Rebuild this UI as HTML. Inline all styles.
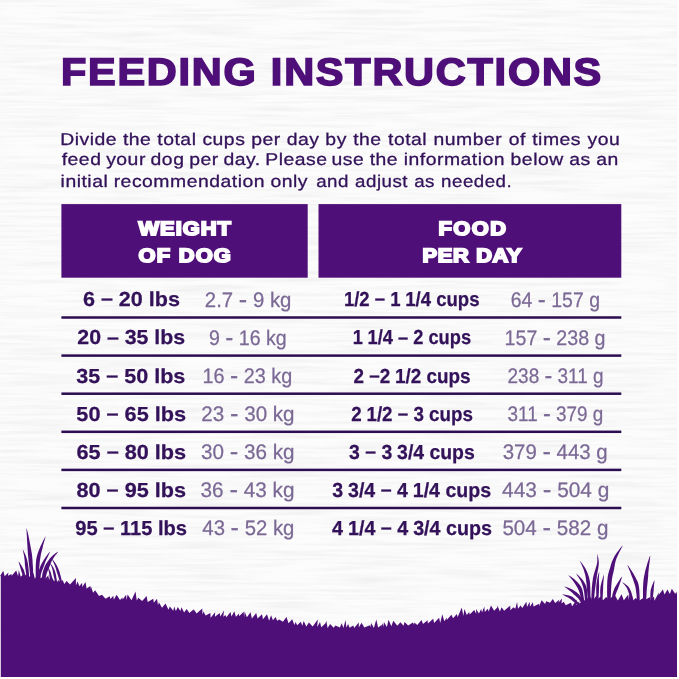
<!DOCTYPE html>
<html><head><meta charset="utf-8"><title>Feeding Instructions</title>
<style>
html,body{margin:0;padding:0;background:#ffffff;}
body{width:679px;height:679px;overflow:hidden;font-family:"Liberation Sans",sans-serif;}
svg{display:block;font-family:"Liberation Sans",sans-serif;}
</style></head><body>
<svg width="679" height="679" viewBox="0 0 679 679">
<defs>
<filter id="wood" x="0" y="0" width="100%" height="100%" color-interpolation-filters="sRGB">
<feTurbulence type="fractalNoise" baseFrequency="0.012 0.28" numOctaves="4" seed="4" result="n"/>
<feColorMatrix in="n" type="matrix" values="0 0 0 0 0.84  0 0 0 0 0.84  0 0 0 0 0.84  0.6 0 0 0 -0.235"/>
</filter>
</defs>
<rect x="0" y="0" width="677" height="677" fill="#fcfcfc"/>
<rect x="0" y="0" width="677" height="677" filter="url(#wood)"/>
<rect x="61.4" y="204.1" width="246.3" height="73.6" fill="#4f0f79"/>
<rect x="318.5" y="204.1" width="302.8" height="73.6" fill="#4f0f79"/>
<rect x="61.4" y="316.25" width="559.9" height="2.5" fill="#2c0d52"/>
<rect x="61.4" y="354.35" width="559.9" height="2.5" fill="#2c0d52"/>
<rect x="61.4" y="392.45" width="559.9" height="2.5" fill="#2c0d52"/>
<rect x="61.4" y="430.55" width="559.9" height="2.5" fill="#2c0d52"/>
<rect x="61.4" y="468.65" width="559.9" height="2.5" fill="#2c0d52"/>
<rect x="61.4" y="506.75" width="559.9" height="2.5" fill="#2c0d52"/>
<path d="M0.8,677 L0.8,576 L0.0,576.2 L3.2,570.8 L4.7,576.3 L8.4,572.5 L8.0,575.8 L11.5,574.1 L11.7,575.7 L16.2,570.6 L18.1,576.3 L18.8,570.0 L20.7,576.7 L24.3,573.6 L23.3,577.4 L26.4,573.9 L28.4,577.8 L33.3,572.7 L34.9,578.7 L38.5,573.2 L38.3,579.3 L43.5,576.5 L44.2,579.7 L48.7,575.1 L47.5,580.6 L48.6,576.7 L50.3,580.7 L51.2,575.8 L54.1,581.5 L54.9,580.0 L57.0,582.2 L58.3,580.0 L61.3,583.0 L62.5,579.7 L64.3,584.0 L66.6,581.1 L70.0,584.5 L75.9,577.9 L75.9,585.6 L77.5,581.4 L79.4,586.2 L82.1,582.8 L82.3,587.0 L85.5,582.0 L86.6,588.4 L90.4,586.1 L89.8,589.4 L90.9,586.2 L93.1,592.7 L95.1,590.3 L99.1,596.0 L102.0,594.8 L105.5,598.8 L109.7,596.3 L110.4,599.0 L113.3,595.7 L113.8,599.7 L116.6,594.7 L120.0,600.1 L122.4,597.6 L122.7,599.6 L126.1,594.7 L126.6,600.1 L127.6,594.5 L131.5,600.3 L135.5,591.5 L136.8,600.4 L138.3,597.7 L142.2,601.0 L146.6,595.9 L147.7,601.9 L153.3,598.8 L153.8,602.8 L157.0,598.8 L158.0,605.2 L158.9,602.3 L162.0,607.8 L165.5,603.5 L168.5,609.7 L169.8,606.5 L173.3,610.7 L174.2,606.5 L175.9,611.0 L177.8,606.9 L180.4,610.9 L181.5,607.3 L184.1,612.5 L186.7,608.9 L189.3,613.0 L193.5,609.5 L192.6,613.5 L193.7,609.2 L196.6,613.5 L202.3,608.6 L202.4,614.4 L203.5,611.6 L205.6,615.6 L210.4,612.9 L210.6,617.8 L215.2,612.2 L214.9,616.7 L219.7,613.1 L220.3,616.6 L224.0,610.5 L223.3,616.8 L225.4,615.1 L226.4,617.2 L230.5,612.0 L231.5,616.5 L234.3,611.2 L235.9,616.7 L239.1,613.6 L239.1,616.3 L243.7,611.7 L244.1,617.3 L244.6,611.6 L246.9,617.2 L250.5,612.2 L251.9,618.4 L256.2,612.9 L257.6,618.5 L262.0,614.2 L263.0,619.3 L267.0,614.3 L269.1,620.7 L271.1,615.2 L272.9,620.3 L275.7,617.1 L277.1,620.8 L279.3,619.6 L282.9,621.8 L286.5,617.1 L288.5,623.3 L292.2,619.2 L294.4,624.9 L295.6,622.0 L297.2,625.3 L300.8,621.7 L302.3,625.7 L303.7,620.9 L306.3,626.6 L308.9,622.5 L312.7,626.6 L317.8,619.5 L317.2,626.9 L320.0,622.0 L321.3,627.3 L325.5,623.3 L324.1,627.7 L326.3,620.8 L327.6,627.9 L330.1,624.0 L333.7,627.8 L335.4,625.4 L339.9,627.4 L341.7,623.2 L343.4,627.9 L345.6,620.1 L346.3,627.5 L348.1,623.9 L349.6,627.7 L353.2,625.4 L354.2,627.9 L358.8,622.6 L358.8,627.5 L361.5,622.8 L364.3,627.6 L369.9,625.2 L370.5,627.3 L371.1,623.0 L373.9,627.9 L376.3,619.5 L378.1,627.5 L382.0,624.7 L380.7,627.7 L382.9,623.3 L383.6,627.2 L383.9,621.9 L386.9,626.9 L388.5,619.7 L391.4,626.2 L393.3,620.7 L397.3,625.7 L400.4,622.3 L403.6,625.7 L404.5,622.0 L408.2,625.6 L412.9,622.6 L414.1,624.8 L414.3,622.4 L417.3,625.1 L421.5,619.9 L423.0,624.1 L427.6,620.2 L427.9,623.5 L433.2,618.8 L434.1,623.1 L439.1,617.7 L440.2,623.0 L442.3,614.3 L444.3,621.2 L446.9,617.6 L446.8,620.1 L451.4,614.8 L453.1,618.2 L456.8,614.0 L457.7,617.0 L461.8,607.6 L463.3,616.0 L464.4,609.1 L466.8,615.0 L469.2,612.1 L469.7,614.6 L474.3,610.0 L476.1,613.8 L476.2,609.1 L478.9,613.4 L481.2,609.1 L482.0,612.5 L484.3,606.6 L484.8,612.0 L487.8,608.8 L488.7,611.4 L491.0,605.5 L494.1,610.8 L498.2,606.5 L497.2,611.4 L497.4,605.4 L499.9,611.5 L501.6,607.2 L504.1,610.8 L510.2,605.7 L510.4,610.2 L513.4,607.2 L515.3,608.7 L517.1,601.9 L518.0,608.7 L520.6,605.4 L522.3,608.1 L526.4,601.8 L527.0,607.0 L529.7,601.8 L529.9,606.7 L532.9,602.2 L533.5,606.6 L539.2,603.7 L539.0,606.3 L541.7,600.2 L545.0,604.1 L546.3,601.2 L550.0,602.7 L552.8,599.1 L555.2,602.9 L559.2,599.7 L558.6,602.5 L562.0,598.4 L561.5,603.5 L563.8,601.7 L565.7,605.2 L570.8,602.7 L572.2,606.2 L576.7,599.5 L576.4,605.3 L579.4,601.1 L579.2,603.8 L583.5,599.9 L584.8,600.6 L586.5,596.2 L588.6,600.3 L589.5,595.8 L592.5,600.5 L597.5,594.6 L597.3,599.8 L600.4,596.6 L603.0,600.2 L606.2,597.1 L609.1,599.8 L612.1,596.7 L613.1,600.4 L614.8,595.0 L617.8,600.4 L621.6,594.2 L623.8,600.2 L628.3,594.5 L628.6,599.7 L629.8,592.3 L633.3,600.5 L635.5,598.1 L639.4,600.5 L643.9,597.5 L644.5,600.3 L650.1,596.9 L650.0,600.4 L654.0,596.4 L654.5,600.7 L658.9,592.3 L658.6,595.1 L662.9,589.4 L664.5,594.6 L667.5,589.6 L669.8,594.0 L671.8,588.7 L675.3,594.0 L676.2,591.4 L677.0,594.0 L677,677 Z" fill="#4f0f79"/>
<path d="M26.5,528.0 L26.5,529.0 L26.5,530.2 L26.6,531.7 L26.7,533.4 L26.8,535.2 L26.9,537.1 L27.0,539.1 L27.1,541.1 L27.2,543.2 L27.4,545.5 L27.5,547.8 L27.7,550.3 L27.8,552.8 L28.0,555.3 L28.3,557.7 L28.5,560.2 L28.8,562.8 L29.1,565.5 L29.4,568.4 L29.7,571.3 L29.9,574.0 L30.2,576.5 L30.4,578.6 L30.5,580.1 L33.5,579.9 L33.4,578.3 L33.3,576.3 L33.2,573.8 L33.1,571.1 L33.0,568.2 L32.8,565.3 L32.6,562.4 L32.5,559.8 L32.2,557.3 L32.0,554.8 L31.6,552.3 L31.2,549.9 L30.7,547.4 L30.3,545.1 L29.9,542.9 L29.5,540.9 L29.1,538.9 L28.7,536.9 L28.3,535.0 L27.9,533.2 L27.5,531.6 L27.1,530.2 L26.8,528.9 L26.5,528.0 Z" fill="#4f0f79"/>
<path d="M45.7,536.2 L45.2,536.9 L44.7,537.9 L44.1,539.0 L43.4,540.3 L42.7,541.7 L42.0,543.2 L41.3,544.7 L40.6,546.1 L40.0,547.6 L39.4,549.0 L38.8,550.5 L38.2,552.1 L37.6,553.7 L37.1,555.5 L36.6,557.4 L36.2,559.5 L36.0,562.0 L35.8,564.7 L35.7,567.7 L35.7,570.7 L35.7,573.6 L35.7,576.2 L35.7,578.3 L35.7,579.9 L38.5,580.1 L38.6,578.4 L38.7,576.2 L38.9,573.6 L39.0,570.8 L39.2,567.8 L39.5,565.0 L39.7,562.3 L40.0,560.1 L40.3,558.1 L40.6,556.3 L40.9,554.6 L41.2,553.0 L41.6,551.4 L42.0,549.9 L42.4,548.4 L42.8,546.9 L43.1,545.3 L43.6,543.8 L44.0,542.2 L44.5,540.7 L44.9,539.3 L45.2,538.1 L45.5,537.0 L45.7,536.2 Z" fill="#4f0f79"/>
<path d="M22.8,549.4 L22.9,550.2 L23.1,551.1 L23.3,552.3 L23.6,553.5 L23.9,554.9 L24.2,556.5 L24.4,558.2 L24.6,560.0 L24.8,562.2 L24.9,564.8 L25.3,567.7 L25.7,570.7 L26.1,573.6 L26.5,576.3 L26.8,578.5 L27.0,580.1 L29.4,579.9 L29.3,578.2 L29.1,576.0 L28.9,573.3 L28.7,570.4 L28.4,567.4 L28.1,564.4 L27.5,561.8 L27.0,559.6 L26.5,557.7 L25.9,556.0 L25.3,554.5 L24.7,553.2 L24.2,552.0 L23.6,550.9 L23.2,550.1 L22.8,549.4 Z" fill="#4f0f79"/>
<path d="M18.6,561.4 L18.7,562.2 L19.0,563.2 L19.3,564.3 L19.7,565.6 L20.1,567.0 L20.5,568.3 L20.9,569.6 L21.2,570.9 L21.6,572.0 L22.0,573.3 L22.4,574.7 L22.8,576.1 L23.2,577.3 L23.5,578.5 L23.8,579.5 L24.0,580.3 L26.0,579.7 L25.9,579.0 L25.7,578.0 L25.5,576.8 L25.2,575.5 L24.9,574.1 L24.6,572.6 L24.2,571.2 L23.8,569.9 L23.2,568.7 L22.5,567.5 L21.8,566.2 L21.1,565.0 L20.4,563.9 L19.7,562.8 L19.1,562.0 L18.6,561.4 Z" fill="#4f0f79"/>
<path d="M50.1,551.4 L49.5,552.1 L48.7,553.1 L47.7,554.3 L46.7,555.7 L45.7,557.1 L44.7,558.6 L43.7,560.0 L42.9,561.4 L42.1,562.8 L41.4,564.2 L40.7,565.6 L40.1,567.0 L39.5,568.5 L39.1,569.9 L38.7,571.3 L38.4,572.7 L38.1,574.0 L38.0,575.4 L37.9,576.8 L37.8,578.1 L37.8,579.3 L37.8,580.4 L37.8,581.3 L37.8,581.9 L40.2,582.1 L40.3,581.4 L40.3,580.5 L40.4,579.4 L40.5,578.3 L40.6,577.0 L40.7,575.8 L40.9,574.5 L41.2,573.3 L41.6,572.1 L42.0,570.9 L42.5,569.5 L43.1,568.2 L43.6,566.8 L44.1,565.4 L44.6,563.9 L45.1,562.6 L45.7,561.1 L46.4,559.6 L47.2,558.0 L47.9,556.4 L48.6,554.9 L49.3,553.5 L49.8,552.3 L50.1,551.4 Z" fill="#4f0f79"/>
<path d="M58.3,551.4 L57.5,551.9 L56.6,552.5 L55.5,553.3 L54.3,554.2 L53.0,555.3 L51.8,556.4 L50.5,557.7 L49.4,559.0 L48.4,560.4 L47.3,561.9 L46.3,563.6 L45.3,565.3 L44.5,567.1 L43.8,569.0 L43.2,570.7 L42.7,572.4 L42.4,574.1 L42.1,575.9 L42.0,577.6 L41.9,579.2 L41.9,580.7 L41.9,582.0 L41.9,583.1 L41.9,583.9 L45.1,584.1 L45.2,583.3 L45.3,582.1 L45.4,580.9 L45.5,579.4 L45.7,578.0 L46.0,576.4 L46.3,575.0 L46.7,573.6 L47.2,572.1 L47.9,570.5 L48.6,568.9 L49.3,567.1 L50.0,565.4 L50.6,563.7 L51.3,562.1 L52.0,560.6 L52.7,559.3 L53.6,557.9 L54.5,556.6 L55.4,555.3 L56.4,554.2 L57.2,553.1 L57.9,552.2 L58.3,551.4 Z" fill="#4f0f79"/>
<path d="M51.7,558.4 L51.9,559.0 L52.2,559.8 L52.7,560.7 L53.1,561.7 L53.6,562.7 L54.1,563.8 L54.5,564.8 L54.9,565.8 L55.2,566.7 L55.5,567.6 L55.8,568.4 L56.1,569.3 L56.3,570.3 L56.6,571.3 L56.9,572.3 L57.3,573.4 L57.7,574.7 L58.1,576.1 L58.6,577.7 L59.1,579.3 L59.6,580.8 L60.0,582.2 L60.4,583.4 L60.7,584.3 L62.5,583.7 L62.3,582.9 L62.0,581.7 L61.7,580.2 L61.3,578.7 L60.9,577.0 L60.5,575.4 L60.1,573.9 L59.7,572.6 L59.4,571.5 L59.0,570.4 L58.6,569.5 L58.3,568.6 L57.8,567.7 L57.4,566.8 L57.0,565.9 L56.5,565.0 L55.9,564.1 L55.3,563.1 L54.6,562.1 L53.9,561.2 L53.3,560.3 L52.7,559.5 L52.1,558.9 L51.7,558.4 Z" fill="#4f0f79"/>
<path d="M50.0,563.0 L50.2,563.6 L50.4,564.2 L50.8,565.0 L51.2,565.9 L51.6,566.8 L52.0,567.9 L52.3,569.0 L52.6,570.3 L52.9,571.8 L53.2,573.6 L53.6,575.6 L54.1,577.7 L54.6,579.7 L55.0,581.5 L55.4,583.1 L55.6,584.2 L57.4,583.8 L57.2,582.7 L56.9,581.1 L56.7,579.3 L56.3,577.2 L56.0,575.1 L55.5,573.1 L54.9,571.2 L54.4,569.7 L53.8,568.5 L53.2,567.3 L52.6,566.3 L52.0,565.4 L51.4,564.6 L50.8,564.0 L50.4,563.4 L50.0,563.0 Z" fill="#4f0f79"/>
<path d="M47.5,567.0 L47.6,567.5 L47.8,568.1 L48.0,568.7 L48.3,569.5 L48.5,570.3 L48.8,571.2 L49.0,572.2 L49.1,573.2 L49.3,574.4 L49.4,575.8 L49.6,577.4 L49.9,579.0 L50.1,580.6 L50.4,582.0 L50.5,583.2 L50.7,584.1 L52.3,583.9 L52.2,583.0 L52.2,581.8 L52.0,580.4 L51.9,578.8 L51.8,577.1 L51.6,575.5 L51.2,574.0 L50.9,572.8 L50.5,571.7 L50.0,570.8 L49.5,569.9 L49.1,569.1 L48.6,568.4 L48.2,567.9 L47.8,567.4 L47.5,567.0 Z" fill="#4f0f79"/>
<path d="M622.7,545.3 L621.9,546.2 L621.0,547.3 L619.8,548.8 L618.6,550.4 L617.3,552.1 L616.1,553.8 L615.0,555.5 L614.1,557.1 L613.3,558.7 L612.6,560.2 L612.0,561.6 L611.5,563.1 L611.0,564.6 L610.6,566.0 L610.2,567.5 L609.7,568.9 L609.3,570.3 L608.9,571.6 L608.5,572.9 L608.2,574.3 L607.9,575.8 L607.7,577.3 L607.5,579.1 L607.3,581.0 L607.2,583.3 L607.1,586.0 L607.1,588.9 L607.1,591.8 L607.1,594.6 L607.2,597.2 L607.2,599.4 L607.2,601.0 L610.6,601.0 L610.7,599.4 L610.8,597.3 L610.9,594.7 L611.0,591.9 L611.1,589.0 L611.3,586.1 L611.5,583.6 L611.7,581.4 L611.9,579.6 L612.2,578.0 L612.4,576.6 L612.7,575.3 L613.0,574.0 L613.3,572.7 L613.6,571.4 L613.9,569.9 L614.2,568.4 L614.4,566.9 L614.7,565.5 L614.9,564.1 L615.3,562.6 L615.6,561.2 L616.0,559.7 L616.5,558.3 L617.2,556.7 L618.0,554.9 L618.9,553.0 L619.8,551.2 L620.8,549.4 L621.6,547.8 L622.3,546.4 L622.7,545.3 Z" fill="#4f0f79"/>
<path d="M597.4,554.1 L597.3,554.8 L597.3,555.8 L597.3,556.9 L597.3,558.2 L597.3,559.5 L597.3,560.9 L597.2,562.2 L597.0,563.5 L596.7,564.8 L596.4,566.1 L595.9,567.5 L595.5,569.0 L595.0,570.5 L594.5,572.0 L594.1,573.5 L593.7,575.0 L593.3,576.5 L593.0,577.9 L592.8,579.4 L592.6,580.8 L592.4,582.3 L592.2,583.8 L592.1,585.3 L591.9,586.9 L591.8,588.7 L591.7,590.6 L591.6,592.6 L591.4,594.7 L591.4,596.6 L591.3,598.4 L591.2,599.8 L591.2,600.9 L593.8,601.1 L594.0,600.0 L594.1,598.6 L594.3,596.8 L594.4,594.9 L594.6,592.9 L594.8,590.9 L595.1,589.0 L595.3,587.3 L595.5,585.7 L595.7,584.2 L595.9,582.8 L596.1,581.3 L596.3,579.9 L596.6,578.5 L596.8,577.1 L596.9,575.6 L597.2,574.2 L597.4,572.7 L597.7,571.2 L598.0,569.6 L598.3,568.1 L598.5,566.6 L598.7,565.1 L598.8,563.7 L598.8,562.3 L598.7,560.8 L598.5,559.4 L598.3,558.1 L598.0,556.8 L597.8,555.7 L597.6,554.8 L597.4,554.1 Z" fill="#4f0f79"/>
<path d="M579.7,560.6 L580.0,561.3 L580.4,562.3 L580.9,563.3 L581.5,564.5 L582.1,565.8 L582.7,567.2 L583.3,568.5 L583.7,569.8 L584.1,571.1 L584.5,572.4 L584.9,573.7 L585.2,575.0 L585.5,576.4 L585.8,578.0 L586.0,579.6 L586.2,581.4 L586.5,583.6 L586.7,586.2 L587.0,589.0 L587.2,591.9 L587.4,594.7 L587.6,597.3 L587.7,599.5 L587.9,601.1 L590.5,600.9 L590.5,599.4 L590.5,597.2 L590.4,594.6 L590.4,591.8 L590.3,588.8 L590.2,585.9 L590.1,583.3 L589.8,581.0 L589.4,579.0 L589.0,577.3 L588.5,575.7 L588.0,574.2 L587.4,572.8 L586.9,571.5 L586.3,570.3 L585.7,569.0 L585.0,567.7 L584.2,566.4 L583.3,565.2 L582.5,564.0 L581.6,562.9 L580.9,562.0 L580.2,561.2 L579.7,560.6 Z" fill="#4f0f79"/>
<path d="M576.2,573.6 L576.5,574.3 L577.1,575.2 L577.7,576.2 L578.5,577.3 L579.2,578.4 L579.9,579.6 L580.6,580.7 L581.1,581.8 L581.5,582.8 L581.9,583.7 L582.3,584.7 L582.6,585.7 L582.9,586.6 L583.2,587.6 L583.5,588.7 L583.7,589.8 L584.0,591.1 L584.2,592.6 L584.4,594.2 L584.6,595.8 L584.7,597.4 L584.8,598.9 L584.9,600.2 L585.0,601.1 L587.4,600.9 L587.4,600.0 L587.4,598.8 L587.3,597.3 L587.3,595.7 L587.3,594.0 L587.2,592.3 L587.1,590.7 L586.9,589.2 L586.6,587.9 L586.3,586.7 L585.9,585.6 L585.4,584.6 L584.9,583.5 L584.3,582.6 L583.7,581.6 L583.1,580.6 L582.3,579.6 L581.4,578.5 L580.4,577.5 L579.4,576.5 L578.5,575.6 L577.6,574.7 L576.8,574.1 L576.2,573.6 Z" fill="#4f0f79"/>
<path d="M568.5,575.3 L568.9,575.9 L569.4,576.5 L570.1,577.3 L570.8,578.2 L571.6,579.1 L572.4,580.0 L573.2,581.0 L573.8,581.9 L574.5,582.9 L575.2,583.9 L575.8,584.9 L576.4,585.9 L577.0,586.9 L577.6,588.0 L578.1,589.0 L578.6,590.2 L579.1,591.5 L579.6,593.0 L580.1,594.8 L580.5,596.6 L580.8,598.3 L581.2,599.9 L581.4,601.2 L581.7,602.3 L584.3,601.7 L584.2,600.8 L584.0,599.4 L583.8,597.8 L583.5,596.0 L583.2,594.1 L582.9,592.2 L582.5,590.4 L582.0,588.8 L581.4,587.5 L580.7,586.2 L579.9,585.0 L579.0,584.0 L578.1,583.0 L577.3,582.1 L576.4,581.3 L575.6,580.5 L574.7,579.6 L573.7,578.8 L572.7,578.0 L571.7,577.3 L570.7,576.6 L569.8,576.1 L569.1,575.6 L568.5,575.3 Z" fill="#4f0f79"/>
<path d="M564.4,586.5 L564.9,587.0 L565.5,587.5 L566.3,588.1 L567.2,588.8 L568.1,589.5 L569.1,590.2 L570.0,590.9 L570.8,591.6 L571.6,592.3 L572.5,593.1 L573.3,593.9 L574.2,594.7 L575.1,595.5 L575.9,596.2 L576.7,596.9 L577.4,597.6 L578.1,598.3 L578.7,599.1 L579.3,599.9 L579.9,600.8 L580.4,601.7 L580.9,602.5 L581.3,603.1 L581.6,603.6 L583.8,602.4 L583.5,601.9 L583.2,601.2 L582.8,600.3 L582.3,599.4 L581.8,598.4 L581.2,597.4 L580.5,596.4 L579.8,595.4 L579.0,594.6 L578.2,593.7 L577.3,592.9 L576.3,592.1 L575.3,591.4 L574.2,590.7 L573.2,590.1 L572.2,589.6 L571.2,589.0 L570.1,588.5 L568.9,588.0 L567.8,587.6 L566.8,587.2 L565.8,586.9 L565.0,586.6 L564.4,586.5 Z" fill="#4f0f79"/>
<path d="M562.1,594.4 L562.7,594.8 L563.6,595.3 L564.6,595.8 L565.8,596.4 L567.0,597.0 L568.1,597.6 L569.2,598.3 L570.1,598.9 L571.1,599.6 L572.1,600.5 L573.3,601.4 L574.4,602.3 L575.4,603.3 L576.4,604.1 L577.2,604.9 L577.8,605.4 L579.4,603.8 L578.8,603.2 L578.1,602.4 L577.2,601.5 L576.2,600.4 L575.2,599.3 L574.0,598.2 L572.9,597.2 L571.7,596.5 L570.4,595.9 L569.0,595.5 L567.6,595.2 L566.3,594.9 L565.0,594.7 L563.8,594.5 L562.9,594.4 L562.1,594.4 Z" fill="#4f0f79"/>
<path d="M599.2,571.8 L599.0,572.4 L598.7,573.2 L598.4,574.1 L598.1,575.2 L597.8,576.4 L597.5,577.8 L597.2,579.4 L596.9,581.1 L596.6,583.3 L596.3,585.8 L596.2,588.7 L596.2,591.7 L596.3,594.5 L596.3,597.2 L596.3,599.4 L596.4,601.0 L598.4,601.0 L598.5,599.4 L598.6,597.2 L598.8,594.6 L598.9,591.7 L599.0,588.8 L599.1,585.9 L599.0,583.4 L598.9,581.3 L598.9,579.5 L598.9,578.0 L599.0,576.6 L599.1,575.3 L599.1,574.2 L599.2,573.3 L599.2,572.5 L599.2,571.8 Z" fill="#4f0f79"/>
<path d="M603.9,574.7 L603.5,575.6 L603.1,576.8 L602.7,578.3 L602.2,579.9 L601.7,581.6 L601.2,583.4 L600.8,585.2 L600.5,587.0 L600.3,588.8 L600.2,590.7 L600.2,592.8 L600.3,594.8 L600.3,596.7 L600.4,598.5 L600.4,599.9 L600.5,601.0 L602.5,601.0 L602.6,599.9 L602.6,598.5 L602.7,596.7 L602.8,594.8 L602.9,592.8 L603.0,590.8 L603.1,588.9 L603.1,587.2 L603.2,585.5 L603.3,583.8 L603.4,581.9 L603.6,580.2 L603.7,578.5 L603.8,577.0 L603.9,575.7 L603.9,574.7 Z" fill="#4f0f79"/>
<path d="M622.2,576.3 L621.7,576.9 L621.1,577.7 L620.4,578.6 L619.7,579.7 L618.9,580.9 L618.2,582.0 L617.4,583.2 L616.8,584.2 L616.2,585.2 L615.6,586.2 L615.0,587.2 L614.5,588.2 L614.1,589.3 L613.7,590.3 L613.3,591.4 L613.0,592.5 L612.7,593.6 L612.4,594.8 L612.2,596.1 L612.0,597.2 L611.8,598.3 L611.7,599.3 L611.6,600.1 L611.5,600.7 L613.9,601.3 L614.1,600.6 L614.3,599.8 L614.5,598.9 L614.8,597.8 L615.1,596.7 L615.4,595.6 L615.7,594.5 L616.0,593.5 L616.4,592.5 L616.8,591.6 L617.2,590.6 L617.7,589.6 L618.1,588.6 L618.4,587.5 L618.8,586.4 L619.2,585.4 L619.6,584.2 L620.0,583.0 L620.5,581.7 L621.0,580.4 L621.4,579.1 L621.8,578.0 L622.0,577.0 L622.2,576.3 Z" fill="#4f0f79"/>
<path d="M650.2,555.5 L649.7,556.6 L649.1,558.2 L648.5,560.0 L647.8,562.0 L647.1,564.2 L646.5,566.4 L645.9,568.6 L645.3,570.6 L644.9,572.6 L644.5,574.5 L644.1,576.5 L643.7,578.5 L643.5,580.4 L643.3,582.4 L643.2,584.3 L643.1,586.3 L643.0,588.3 L643.0,590.4 L643.0,592.5 L643.0,594.6 L643.0,596.6 L643.0,598.4 L643.0,599.8 L643.0,601.0 L646.2,601.0 L646.2,599.9 L646.3,598.4 L646.4,596.7 L646.5,594.7 L646.6,592.6 L646.7,590.5 L646.9,588.5 L647.1,586.5 L647.3,584.7 L647.5,582.8 L647.7,580.9 L647.9,578.9 L648.1,577.0 L648.2,575.0 L648.3,573.1 L648.5,571.2 L648.7,569.1 L648.9,566.9 L649.2,564.7 L649.5,562.4 L649.8,560.3 L650.0,558.4 L650.2,556.7 L650.2,555.5 Z" fill="#4f0f79"/>
<path d="M627.4,564.7 L627.7,565.7 L628.2,566.9 L628.7,568.4 L629.4,570.1 L630.1,571.8 L630.8,573.5 L631.4,575.2 L632.0,576.7 L632.5,578.0 L633.0,579.3 L633.4,580.5 L633.8,581.7 L634.2,582.9 L634.6,584.1 L635.0,585.4 L635.4,586.8 L635.7,588.4 L636.0,590.3 L636.2,592.3 L636.5,594.4 L636.6,596.5 L636.8,598.4 L636.9,599.9 L637.1,601.1 L639.7,600.9 L639.7,599.8 L639.7,598.2 L639.6,596.3 L639.5,594.2 L639.4,592.1 L639.3,589.9 L639.1,587.9 L638.8,586.0 L638.5,584.5 L638.1,583.0 L637.6,581.6 L637.0,580.4 L636.4,579.2 L635.8,578.0 L635.1,576.8 L634.4,575.5 L633.6,574.1 L632.7,572.6 L631.7,571.0 L630.7,569.4 L629.7,567.9 L628.8,566.6 L628.0,565.5 L627.4,564.7 Z" fill="#4f0f79"/>
<path d="M622.4,582.3 L622.8,582.9 L623.3,583.5 L624.0,584.2 L624.7,585.0 L625.4,585.9 L626.2,586.9 L626.8,587.9 L627.3,589.0 L627.8,590.3 L628.4,591.9 L629.0,593.7 L629.7,595.5 L630.4,597.3 L630.9,598.9 L631.4,600.3 L631.8,601.3 L633.6,600.7 L633.3,599.7 L633.0,598.3 L632.5,596.6 L632.0,594.8 L631.5,592.9 L630.8,591.0 L630.1,589.4 L629.3,588.0 L628.4,586.8 L627.4,585.8 L626.4,585.0 L625.5,584.2 L624.5,583.6 L623.7,583.0 L623.0,582.6 L622.4,582.3 Z" fill="#4f0f79"/>
<path d="M654.4,580.2 L654.0,580.9 L653.6,581.7 L653.2,582.8 L652.7,584.0 L652.2,585.2 L651.7,586.6 L651.3,587.9 L650.9,589.3 L650.6,590.7 L650.5,592.3 L650.4,594.0 L650.3,595.7 L650.3,597.3 L650.2,598.8 L650.2,600.0 L650.2,600.9 L652.4,601.1 L652.5,600.2 L652.7,599.0 L652.8,597.5 L653.0,595.9 L653.2,594.3 L653.4,592.6 L653.6,591.1 L653.7,589.7 L653.7,588.4 L653.9,587.0 L654.0,585.6 L654.1,584.3 L654.3,583.0 L654.4,581.9 L654.4,581.0 L654.4,580.2 Z" fill="#4f0f79"/>
<g style="white-space:pre;text-rendering:geometricPrecision" opacity="0.999">
<text transform="translate(60.92,84.85) scale(1.08,1)" font-size="38.4" font-weight="bold" fill="#4f0f79" letter-spacing="1.636" stroke="#4f0f79" stroke-width="1.6" stroke-linejoin="miter">FEEDING INSTRUCTIONS</text>
<text transform="translate(60.17,144.55) scale(1.14,1)" font-size="17" font-weight="normal" fill="#33125a" word-spacing="0.038" letter-spacing="0.439" stroke="#33125a" stroke-width="0.3" stroke-linejoin="round">Divide the total cups per day by</text>
<text transform="translate(353.16,144.55) scale(1.14,1)" font-size="17" font-weight="normal" fill="#33125a" word-spacing="0.456" letter-spacing="0.439" stroke="#33125a" stroke-width="0.3" stroke-linejoin="round">the total number of times you</text>
<text transform="translate(61.70,165.40) scale(1.14,1)" font-size="17" font-weight="normal" fill="#33125a" word-spacing="-1.010" letter-spacing="0.439" stroke="#33125a" stroke-width="0.3" stroke-linejoin="round">feed your dog per day. Please</text>
<text transform="translate(331.42,165.40) scale(1.14,1)" font-size="17" font-weight="normal" fill="#33125a" word-spacing="-0.306" letter-spacing="0.439" stroke="#33125a" stroke-width="0.3" stroke-linejoin="round">use the information below as an</text>
<text transform="translate(60.57,187.00) scale(1.14,1)" font-size="17" font-weight="normal" fill="#33125a" word-spacing="-0.401" letter-spacing="0.439" stroke="#33125a" stroke-width="0.3" stroke-linejoin="round">initial recommendation only</text>
<text transform="translate(316.20,187.00) scale(1.1,1)" font-size="17" font-weight="normal" fill="#33125a" word-spacing="0.444" letter-spacing="0.455" stroke="#33125a" stroke-width="0.3" stroke-linejoin="round">and adjust as needed.</text>
<text transform="translate(138.44,235.40) scale(1.14,1)" font-size="19.2" font-weight="bold" fill="#fff" letter-spacing="0.877" stroke="#fff" stroke-width="1.85" stroke-linejoin="miter">WEIGHT</text>
<text transform="translate(138.62,261.85) scale(1.14,1)" font-size="19.2" font-weight="bold" fill="#fff" letter-spacing="1.044" stroke="#fff" stroke-width="1.85" stroke-linejoin="miter">OF DOG</text>
<text transform="translate(438.40,235.40) scale(1.14,1)" font-size="19.2" font-weight="bold" fill="#fff" letter-spacing="1.287" stroke="#fff" stroke-width="1.85" stroke-linejoin="miter">FOOD</text>
<text transform="translate(422.55,261.85) scale(1.14,1)" font-size="19.2" font-weight="bold" fill="#fff" letter-spacing="0.564" stroke="#fff" stroke-width="1.85" stroke-linejoin="miter">PER DAY</text>
<text transform="translate(82.90,306.30) scale(1.0625586888878027,1)" font-size="20.3" font-weight="bold" fill="#33125a" word-spacing="0.000" letter-spacing="0.000" stroke="#33125a" stroke-width="0.25" stroke-linejoin="round">6 <tspan dy="-0.9">–</tspan><tspan dy="0.9"> 20 lbs</tspan></text>
<text transform="translate(204.87,306.80) scale(0.9696876756766727,1)" font-size="21" font-weight="normal" fill="#7b6995" word-spacing="0.000" letter-spacing="0.000" stroke="#7b6995" stroke-width="0.25" stroke-linejoin="round">2.7 <tspan font-size="26" dy="0.7">-</tspan><tspan dy="-0.7"> 9 kg</tspan></text>
<text transform="translate(343.88,306.30) scale(0.9143499422951498,1)" font-size="20.3" font-weight="bold" fill="#33125a" word-spacing="0.000" letter-spacing="0.000" stroke="#33125a" stroke-width="0.25" stroke-linejoin="round">1/2 <tspan dy="-0.9">–</tspan><tspan dy="0.9"> 1 1/4 cups</tspan></text>
<text transform="translate(510.77,306.80) scale(0.9267996480407266,1)" font-size="21" font-weight="normal" fill="#7b6995" word-spacing="0.000" letter-spacing="0.000" stroke="#7b6995" stroke-width="0.25" stroke-linejoin="round">64 <tspan font-size="26" dy="0.7">-</tspan><tspan dy="-0.7"> 157 g</tspan></text>
<text transform="translate(77.31,344.40) scale(1.0504912708079623,1)" font-size="20.3" font-weight="bold" fill="#33125a" word-spacing="0.000" letter-spacing="0.000" stroke="#33125a" stroke-width="0.25" stroke-linejoin="round">20 <tspan dy="-0.9">–</tspan><tspan dy="0.9"> 35 lbs</tspan></text>
<text transform="translate(208.91,344.90) scale(0.9336798722170714,1)" font-size="21" font-weight="normal" fill="#7b6995" word-spacing="0.000" letter-spacing="0.000" stroke="#7b6995" stroke-width="0.25" stroke-linejoin="round">9 <tspan font-size="26" dy="0.7">-</tspan><tspan dy="-0.7"> 16 kg</tspan></text>
<text transform="translate(352.81,344.40) scale(0.9003725920010034,1)" font-size="20.3" font-weight="bold" fill="#33125a" word-spacing="0.000" letter-spacing="0.000" stroke="#33125a" stroke-width="0.25" stroke-linejoin="round">1 1/4 <tspan dy="-0.9">–</tspan><tspan dy="0.9"> 2 cups</tspan></text>
<text transform="translate(504.52,344.90) scale(0.9356681802943936,1)" font-size="21" font-weight="normal" fill="#7b6995" word-spacing="0.000" letter-spacing="0.000" stroke="#7b6995" stroke-width="0.25" stroke-linejoin="round">157 <tspan font-size="26" dy="0.7">-</tspan><tspan dy="-0.7"> 238 g</tspan></text>
<text transform="translate(76.32,382.50) scale(1.0620172843802578,1)" font-size="20.3" font-weight="bold" fill="#33125a" word-spacing="-0.000" letter-spacing="0.000" stroke="#33125a" stroke-width="0.25" stroke-linejoin="round">35 <tspan dy="-0.9">–</tspan><tspan dy="0.9"> 50 lbs</tspan></text>
<text transform="translate(202.49,383.00) scale(0.9429365065638146,1)" font-size="21" font-weight="normal" fill="#7b6995" word-spacing="0.000" letter-spacing="0.000" stroke="#7b6995" stroke-width="0.25" stroke-linejoin="round">16 <tspan font-size="26" dy="0.7">-</tspan><tspan dy="-0.7"> 23 kg</tspan></text>
<text transform="translate(353.58,382.50) scale(0.9309517891173441,1)" font-size="20.3" font-weight="bold" fill="#33125a" word-spacing="0.000" letter-spacing="0.000" stroke="#33125a" stroke-width="0.25" stroke-linejoin="round">2 <tspan dy="-0.9">–</tspan><tspan dy="0.9">2 1/2 cups</tspan></text>
<text transform="translate(507.59,383.00) scale(0.9013692869070501,1)" font-size="21" font-weight="normal" fill="#7b6995" word-spacing="0.000" letter-spacing="0.000" stroke="#7b6995" stroke-width="0.25" stroke-linejoin="round">238 <tspan font-size="26" dy="0.7">-</tspan><tspan dy="-0.7"> 311 g</tspan></text>
<text transform="translate(76.37,420.60) scale(1.0693672060785309,1)" font-size="20.3" font-weight="bold" fill="#33125a" word-spacing="0.000" letter-spacing="0.000" stroke="#33125a" stroke-width="0.25" stroke-linejoin="round">50 <tspan dy="-0.9">–</tspan><tspan dy="0.9"> 65 lbs</tspan></text>
<text transform="translate(201.33,421.10) scale(0.9806831900652063,1)" font-size="21" font-weight="normal" fill="#7b6995" word-spacing="0.000" letter-spacing="0.000" stroke="#7b6995" stroke-width="0.25" stroke-linejoin="round">23 <tspan font-size="26" dy="0.7">-</tspan><tspan dy="-0.7"> 30 kg</tspan></text>
<text transform="translate(351.32,420.60) scale(0.9256395180886686,1)" font-size="20.3" font-weight="bold" fill="#33125a" word-spacing="0.000" letter-spacing="0.000" stroke="#33125a" stroke-width="0.25" stroke-linejoin="round">2 1/2 <tspan dy="-0.9">–</tspan><tspan dy="0.9"> 3 cups</tspan></text>
<text transform="translate(507.62,421.10) scale(0.8992383146145612,1)" font-size="21" font-weight="normal" fill="#7b6995" word-spacing="0.000" letter-spacing="0.000" stroke="#7b6995" stroke-width="0.25" stroke-linejoin="round">311 <tspan font-size="26" dy="0.7">-</tspan><tspan dy="-0.7"> 379 g</tspan></text>
<text transform="translate(76.52,458.70) scale(1.0678823734122131,1)" font-size="20.3" font-weight="bold" fill="#33125a" word-spacing="0.000" letter-spacing="0.000" stroke="#33125a" stroke-width="0.25" stroke-linejoin="round">65 <tspan dy="-0.9">–</tspan><tspan dy="0.9"> 80 lbs</tspan></text>
<text transform="translate(200.92,459.20) scale(0.9837494162616516,1)" font-size="21" font-weight="normal" fill="#7b6995" word-spacing="0.000" letter-spacing="0.000" stroke="#7b6995" stroke-width="0.25" stroke-linejoin="round">30 <tspan font-size="26" dy="0.7">-</tspan><tspan dy="-0.7"> 36 kg</tspan></text>
<text transform="translate(349.09,458.70) scale(0.9566775985998056,1)" font-size="20.3" font-weight="bold" fill="#33125a" word-spacing="0.000" letter-spacing="0.000" stroke="#33125a" stroke-width="0.25" stroke-linejoin="round">3 <tspan dy="-0.9">–</tspan><tspan dy="0.9"> 3 3/4 cups</tspan></text>
<text transform="translate(502.67,459.20) scale(0.9724536007070265,1)" font-size="21" font-weight="normal" fill="#7b6995" word-spacing="0.000" letter-spacing="0.000" stroke="#7b6995" stroke-width="0.25" stroke-linejoin="round">379 <tspan font-size="26" dy="0.7">-</tspan><tspan dy="-0.7"> 443 g</tspan></text>
<text transform="translate(76.57,496.80) scale(1.0654323995127872,1)" font-size="20.3" font-weight="bold" fill="#33125a" word-spacing="0.000" letter-spacing="0.000" stroke="#33125a" stroke-width="0.25" stroke-linejoin="round">80 <tspan dy="-0.9">–</tspan><tspan dy="0.9"> 95 lbs</tspan></text>
<text transform="translate(200.57,497.30) scale(0.9873026964387619,1)" font-size="21" font-weight="normal" fill="#7b6995" word-spacing="0.000" letter-spacing="0.000" stroke="#7b6995" stroke-width="0.25" stroke-linejoin="round">36 <tspan font-size="26" dy="0.7">-</tspan><tspan dy="-0.7"> 43 kg</tspan></text>
<text transform="translate(332.24,496.80) scale(0.9651198611563092,1)" font-size="20.3" font-weight="bold" fill="#33125a" word-spacing="0.000" letter-spacing="0.000" stroke="#33125a" stroke-width="0.25" stroke-linejoin="round">3 3/4 <tspan dy="-0.9">–</tspan><tspan dy="0.9"> 4 1/4 cups</tspan></text>
<text transform="translate(502.09,497.30) scale(0.9939475207996874,1)" font-size="21" font-weight="normal" fill="#7b6995" word-spacing="0.000" letter-spacing="0.000" stroke="#7b6995" stroke-width="0.25" stroke-linejoin="round">443 <tspan font-size="26" dy="0.7">-</tspan><tspan dy="-0.7"> 504 g</tspan></text>
<text transform="translate(75.26,534.90) scale(0.9911981949887214,1)" font-size="20.3" font-weight="bold" fill="#33125a" word-spacing="0.000" letter-spacing="0.000" stroke="#33125a" stroke-width="0.25" stroke-linejoin="round">95 <tspan dy="-0.9">–</tspan><tspan dy="0.9"> 115 lbs</tspan></text>
<text transform="translate(202.33,535.40) scale(0.9681968971063831,1)" font-size="21" font-weight="normal" fill="#7b6995" word-spacing="0.000" letter-spacing="0.000" stroke="#7b6995" stroke-width="0.25" stroke-linejoin="round">43 <tspan font-size="26" dy="0.7">-</tspan><tspan dy="-0.7"> 52 kg</tspan></text>
<text transform="translate(332.10,534.90) scale(0.9713157609285141,1)" font-size="20.3" font-weight="bold" fill="#33125a" word-spacing="0.000" letter-spacing="0.000" stroke="#33125a" stroke-width="0.25" stroke-linejoin="round">4 1/4 <tspan dy="-0.9">–</tspan><tspan dy="0.9"> 4 3/4 cups</tspan></text>
<text transform="translate(502.38,535.40) scale(0.9819035138511997,1)" font-size="21" font-weight="normal" fill="#7b6995" word-spacing="0.000" letter-spacing="0.000" stroke="#7b6995" stroke-width="0.25" stroke-linejoin="round">504 <tspan font-size="26" dy="0.7">-</tspan><tspan dy="-0.7"> 582 g</tspan></text>
</g>
</svg>
</body></html>
